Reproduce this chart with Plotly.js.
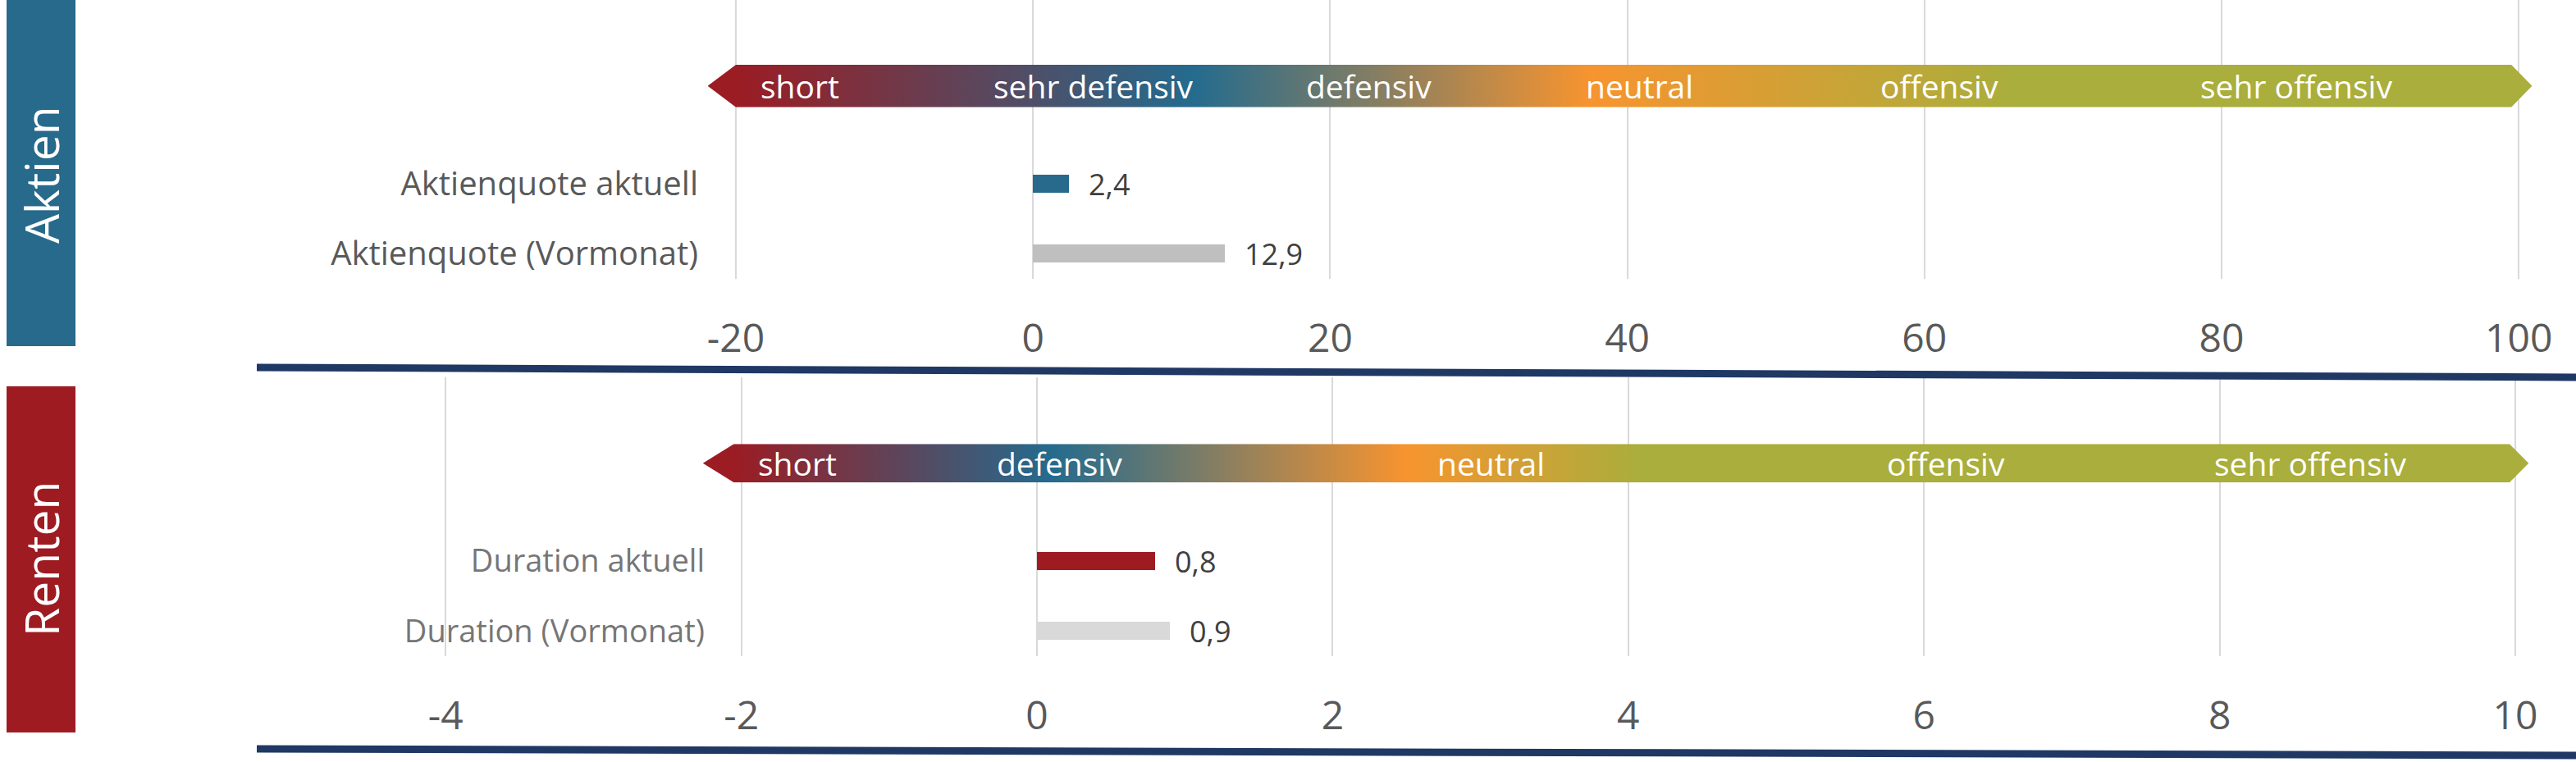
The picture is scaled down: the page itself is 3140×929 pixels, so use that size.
<!DOCTYPE html>
<html>
<head>
<meta charset="utf-8">
<script src="https://cdn.plot.ly/plotly-3.0.1.min.js"></script>
<style>
  html, body { margin: 0; padding: 0; background: #ffffff; }
  #chart { width: 3140px; height: 929px; }
  text { font-variant-ligatures: none; }
</style>
</head>
<body>
<div id="chart"></div>
<script>
// Aktien-Positionierung
const categoriesAktien = ['Aktienquote (Vormonat)', 'Aktienquote aktuell'];
const valuesAktien = [12.9, 2.4];
const ticksAktien = [-20, 0, 20, 40, 60, 80, 100];
const zonesAktien = ['short', 'sehr defensiv', 'defensiv', 'neutral', 'offensiv', 'sehr offensiv'];
const zonePosAktien = [-15.7, 4.1, 22.6, 40.8, 61.0, 85.0];

// Renten-Positionierung
const categoriesRenten = ['Duration (Vormonat)', 'Duration aktuell'];
const valuesRenten = [0.9, 0.8];
const ticksRenten = [-4, -2, 0, 2, 4, 6, 8, 10];
const zonesRenten = ['short', 'defensiv', 'neutral', 'offensiv', 'sehr offensiv'];
const zonePosRenten = [-1.62, 0.15, 3.07, 6.15, 8.61];

// farben
const colorsAktien = ['#bfbfbf', '#276a8c'];
const colorsRenten = ['#d9d9d9', '#9e1b22'];
const gradColors = ['#9b1c23', '#246b8e', '#f7942f', '#a9ae3c'];

// pfeil: spitze links, körper start, körper ende, spitze rechts (achsen-einheiten)
const arrowAktien = [-21.9, -20, 99.5, 100.9];
const arrowRenten = [-2.26, -2.05, 9.96, 10.09];
const gradStopsAktien = [-20, 10.8, 37.5, 66];
const gradStopsRenten = [-2.05, 0.1, 2.5, 4.1];

const W = 3140, H = 929;
const arrowY = 2.4;
const FONT = 'Open Sans';

function arrowImage(ext, stops) {
  const [tl, b0, b1, tr] = ext;
  const w = tr - tl;
  const px = v => ((v - tl) / w * 1000).toFixed(1);
  const st = stops.map((s, i) =>
    `<stop offset="${((s - tl) / w).toFixed(4)}" stop-color="${gradColors[i]}"/>`).join('');
  const svg = `<svg xmlns="http://www.w3.org/2000/svg" width="1000" height="100" viewBox="0 0 1000 100" preserveAspectRatio="none">` +
    `<defs><linearGradient id="g" x1="0" y1="0" x2="1000" y2="0" gradientUnits="userSpaceOnUse">${st}</linearGradient></defs>` +
    `<polygon points="0,50 ${px(b0)},0 ${px(b1)},0 1000,50 ${px(b1)},100 ${px(b0)},100" fill="url(#g)"/></svg>`;
  return 'data:image/svg+xml;base64,' + btoa(svg);
}

function fmt(v) { return v.toFixed(1).replace('.', ','); }

const data = [
  { type: 'bar', orientation: 'h', x: valuesAktien, y: [0, 1], width: 0.26,
    marker: { color: colorsAktien }, xaxis: 'x', yaxis: 'y', hoverinfo: 'skip' },
  { type: 'bar', orientation: 'h', x: valuesRenten, y: [0, 1], width: 0.26,
    marker: { color: colorsRenten }, xaxis: 'x2', yaxis: 'y2', hoverinfo: 'skip' }
];

const annotations = [];
zonesAktien.forEach((z, i) => annotations.push({ xref: 'x', yref: 'y', x: zonePosAktien[i], y: arrowY,
  text: z, showarrow: false, font: { family: FONT, size: 39, color: '#ffffff' } }));
zonesRenten.forEach((z, i) => annotations.push({ xref: 'x2', yref: 'y2', x: zonePosRenten[i], y: arrowY,
  text: z, showarrow: false, font: { family: FONT, size: 39, color: '#ffffff' } }));
valuesAktien.forEach((v, i) => annotations.push({ xref: 'x', yref: 'y', x: v, y: i, xanchor: 'left', xshift: 22,
  text: fmt(v), showarrow: false, font: { family: FONT, size: 36, color: '#404040' } }));
valuesRenten.forEach((v, i) => annotations.push({ xref: 'x2', yref: 'y2', x: v, y: i, xanchor: 'left', xshift: 22,
  text: fmt(v), showarrow: false, font: { family: FONT, size: 36, color: '#404040' } }));
annotations.push({ xref: 'paper', yref: 'paper', x: 50 / W, y: 1 - 213 / H, xanchor: 'center', yanchor: 'middle',
  text: 'Aktien', textangle: -90, showarrow: false, font: { family: FONT, size: 57, color: '#ffffff' } });
annotations.push({ xref: 'paper', yref: 'paper', x: 50 / W, y: 1 - 682 / H, xanchor: 'center', yanchor: 'middle',
  text: 'Renten', textangle: -90, showarrow: false, font: { family: FONT, size: 57, color: '#ffffff' } });

const shapes = [
  { type: 'rect', xref: 'paper', yref: 'paper', x0: 8 / W, x1: 92 / W, y0: 1 - 422 / H, y1: 1,
    fillcolor: '#276a8c', line: { width: 0 }, layer: 'below' },
  { type: 'rect', xref: 'paper', yref: 'paper', x0: 8 / W, x1: 92 / W, y0: 1 - 893 / H, y1: 1 - 471 / H,
    fillcolor: '#9e1b22', line: { width: 0 }, layer: 'below' },
  { type: 'line', xref: 'paper', yref: 'paper', x0: 313 / W, y0: 1 - 448 / H, x1: 1, y1: 1 - 460 / H,
    line: { color: '#1f3864', width: 9 } },
  { type: 'line', xref: 'paper', yref: 'paper', x0: 313 / W, y0: 1 - 913 / H, x1: 1, y1: 1 - 921 / H,
    line: { color: '#1f3864', width: 9 } }
];

const images = [
  { source: arrowImage(arrowAktien, gradStopsAktien), xref: 'x', yref: 'y',
    x: arrowAktien[0], y: arrowY + 0.304, sizex: arrowAktien[3] - arrowAktien[0], sizey: 0.608,
    xanchor: 'left', yanchor: 'top', sizing: 'stretch', layer: 'above' },
  { source: arrowImage(arrowRenten, gradStopsRenten), xref: 'x2', yref: 'y2',
    x: arrowRenten[0], y: arrowY + 0.276, sizex: arrowRenten[3] - arrowRenten[0], sizey: 0.552,
    xanchor: 'left', yanchor: 'top', sizing: 'stretch', layer: 'above' }
];

const xCommon = { showgrid: true, gridcolor: '#d9d9d9', gridwidth: 2, zeroline: false, showline: false,
  ticks: '', tickmode: 'array', ticklabelstandoff: 40, fixedrange: true,
  tickfont: { family: FONT, size: 48, color: '#595959' } };

const layout = {
  width: W, height: H,
  margin: { l: 0, r: 0, t: 0, b: 0 },
  paper_bgcolor: '#ffffff', plot_bgcolor: 'rgba(0,0,0,0)',
  showlegend: false, bargap: 0,
  xaxis: Object.assign({}, xCommon, { domain: [855 / W, 3110 / W], range: [-22.32, 102.2],
    tickvals: ticksAktien, ticktext: ticksAktien.map(String), anchor: 'y' }),
  yaxis: { domain: [1 - 340 / H, 1], range: [-0.36, 3.63], tickmode: 'array', tickvals: [0, 1],
    ticktext: categoriesAktien, showgrid: false, zeroline: false, showline: false, ticks: '',
    ticklabelstandoff: 3, fixedrange: true, anchor: 'x',
    tickfont: { family: FONT, size: 40, color: '#595959' } },
  xaxis2: Object.assign({}, xCommon, { domain: [520 / W, 3110 / W], range: [-4.129, 10.244],
    tickvals: ticksRenten, ticktext: ticksRenten.map(String), anchor: 'y2' }),
  yaxis2: { domain: [1 - 800 / H, 1 - 460 / H], range: [-0.36, 3.63], tickmode: 'array', tickvals: [0, 1],
    ticktext: categoriesRenten, showgrid: false, zeroline: false, showline: false, ticks: '',
    anchor: 'free', position: 862 / W, ticklabelstandoff: 3, fixedrange: true,
    tickfont: { family: FONT, size: 38, color: '#767676' } },
  annotations: annotations,
  shapes: shapes,
  images: images
};

Plotly.newPlot('chart', data, layout, { staticPlot: true, displayModeBar: false });
</script>
</body>
</html>
